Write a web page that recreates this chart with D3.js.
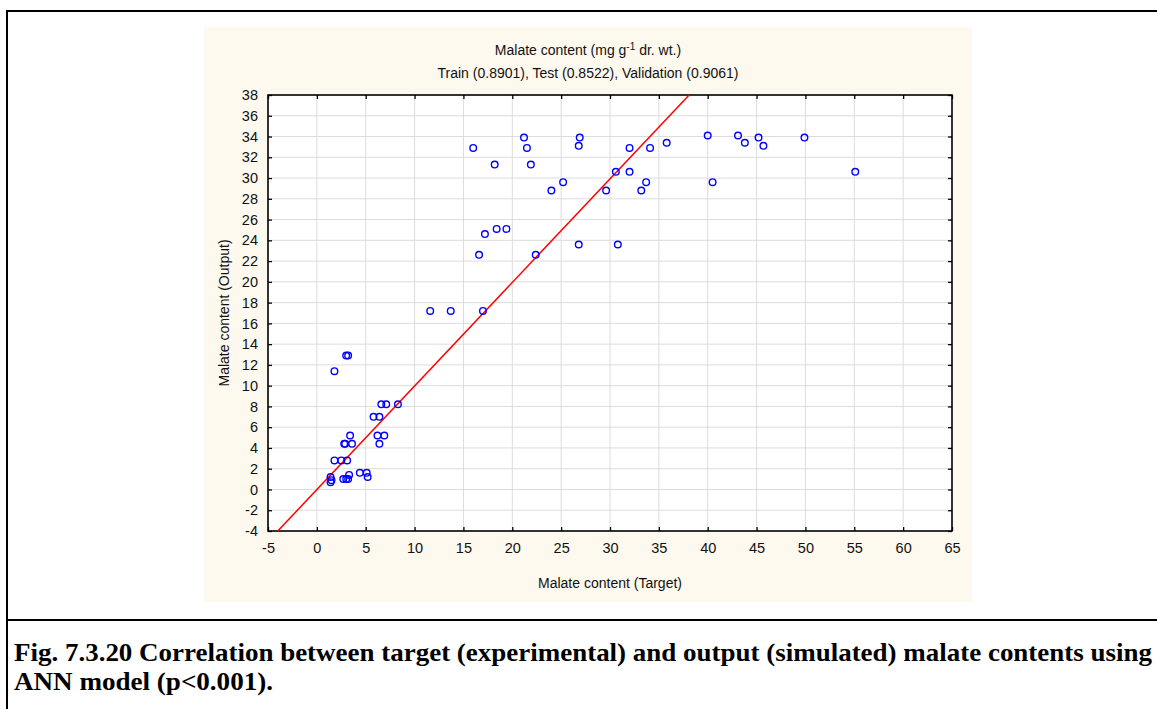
<!DOCTYPE html>
<html lang="en">
<head>
  <meta charset="UTF-8" />
  <title>Malate content ANN correlation</title>
  <script src="https://d3js.org/d3.v7.min.js"></script>
  <style>
    body { margin: 0; background: #fff; }
    svg { display: block; }
    .tick text { font-family: "Liberation Sans", Arial, sans-serif; font-size: 14.5px; fill: #111; }
    .lbl { font-family: "Liberation Sans", Arial, sans-serif; font-size: 14px; fill: #111; }
    .cap { font-family: "Liberation Serif", "Times New Roman", serif; font-weight: bold; font-size: 25px; fill: #000; }
  </style>
</head>
<body>
  <svg id="chart" width="1157" height="709"></svg>

  <script>
    // target (x) and output (y) values
    const targetVals = [
      1.4, 1.5, 1.4, 1.8, 2.5, 3.1, 2.7, 3.0, 3.2, 3.3, 4.4, 5.1, 5.2,
      2.8, 2.9, 3.6, 3.4, 6.4, 6.2, 6.9, 5.8, 6.4, 6.6, 7.1, 8.3,
      1.8, 3.0, 3.2,
      11.6, 13.7, 17.0, 16.6, 22.4, 17.2, 18.4, 19.4, 26.8, 30.8,
      16.0, 21.2, 21.5, 18.2, 21.9, 26.8, 26.9, 24.0, 25.2, 29.6, 30.6,
      32.0, 32.0, 34.1, 33.2, 33.7, 35.8,
      40.0, 40.5, 43.1, 43.8, 45.2, 45.7, 49.9, 55.1
    ];
    const outputVals = [
      1.2, 0.9, 0.7, 2.8, 2.8, 2.8, 1.0, 1.0, 1.0, 1.4, 1.6, 1.6, 1.2,
      4.4, 4.4, 4.4, 5.2, 4.4, 5.2, 5.2, 7.0, 7.0, 8.2, 8.2, 8.2,
      11.4, 12.9, 12.9,
      17.2, 17.2, 17.2, 22.6, 22.6, 24.6, 25.1, 25.1, 23.6, 23.6,
      32.9, 33.9, 32.9, 31.3, 31.3, 33.1, 33.9, 28.8, 29.6, 28.8, 30.6,
      32.9, 30.6, 32.9, 28.8, 29.6, 33.4,
      34.1, 29.6, 34.1, 33.4, 33.9, 33.1, 33.9, 30.6
    ];
    // fitted line end points
    const fitX = [-4, 38.1];
    const fitY = [-4, 38];

    const xTicks = d3.range(-5, 66, 5);
    const yTicks = d3.range(-4, 39, 2);

    const titleMain = 'Malate content (mg g';
    const titleSup = '-1';
    const titleEnd = ' dr. wt.)';
    const subTitle = 'Train (0.8901), Test (0.8522), Validation (0.9061)';
    const xTitle = 'Malate content (Target)';
    const yTitle = 'Malate content (Output)';
    const caption1 = 'Fig. 7.3.20 Correlation between target (experimental) and output (simulated) malate contents using';
    const caption2 = 'ANN model (p<0.001).';

    const svg = d3.select('#chart');
    const plot = { left: 268, right: 952, top: 95, bottom: 531 };
    const fmt = d => String(d);

    // outer frame and caption divider
    svg.append('rect').attr('x', 7).attr('y', 11).attr('width', 1160).attr('height', 720)
      .attr('fill', 'none').attr('stroke', '#000').attr('stroke-width', 2);
    svg.append('line').attr('x1', 7).attr('x2', 1157).attr('y1', 620).attr('y2', 620)
      .attr('stroke', '#000').attr('stroke-width', 2);

    // beige panel
    svg.append('rect').attr('x', 204).attr('y', 27).attr('width', 768).attr('height', 575)
      .attr('fill', '#fef9ef');
    svg.append('rect').attr('x', plot.left).attr('y', plot.top)
      .attr('width', plot.right - plot.left).attr('height', plot.bottom - plot.top)
      .attr('fill', '#fff');

    const x = d3.scaleLinear().domain([-5, 65]).range([plot.left, plot.right]);
    const y = d3.scaleLinear().domain([-4, 38]).range([plot.bottom, plot.top]);

    // grid
    const grid = svg.append('g').attr('stroke', '#dcdcdc').attr('stroke-width', 1);
    xTicks.slice(1, -1).forEach(t => grid.append('line')
      .attr('x1', x(t)).attr('x2', x(t)).attr('y1', plot.top).attr('y2', plot.bottom));
    yTicks.slice(1, -1).forEach(t => grid.append('line')
      .attr('x1', plot.left).attr('x2', plot.right).attr('y1', y(t)).attr('y2', y(t)));

    // axes, ticks pointing inward
    svg.append('g').attr('transform', `translate(0,${plot.bottom})`)
      .call(d3.axisBottom(x).tickValues(xTicks).tickFormat(fmt).tickSizeInner(-4).tickSizeOuter(0).tickPadding(12))
      .call(g => g.select('.domain').remove());
    svg.append('g').attr('transform', `translate(${plot.left},0)`)
      .call(d3.axisLeft(y).tickValues(yTicks).tickFormat(fmt).tickSizeInner(-4).tickSizeOuter(0).tickPadding(10))
      .call(g => g.select('.domain').remove());
    svg.append('g').attr('transform', `translate(0,${plot.top})`)
      .call(d3.axisTop(x).tickValues(xTicks).tickSizeInner(-4).tickSizeOuter(0).tickFormat(''))
      .call(g => g.select('.domain').remove());
    svg.append('g').attr('transform', `translate(${plot.right},0)`)
      .call(d3.axisRight(y).tickValues(yTicks).tickSizeInner(-4).tickSizeOuter(0).tickFormat(''))
      .call(g => g.select('.domain').remove());
    svg.selectAll('.tick line').attr('stroke', '#000').attr('stroke-width', 1.3);

    svg.append('rect').attr('x', plot.left).attr('y', plot.top)
      .attr('width', plot.right - plot.left).attr('height', plot.bottom - plot.top)
      .attr('fill', 'none').attr('stroke', '#000').attr('stroke-width', 1.6);

    // fitted line
    svg.append('path')
      .datum(d3.zip(fitX, fitY))
      .attr('d', d3.line().x(d => x(d[0])).y(d => y(d[1])))
      .attr('stroke', '#ff0000').attr('stroke-width', 1.5).attr('fill', 'none');

    // points
    svg.append('g').selectAll('circle')
      .data(d3.zip(targetVals, outputVals))
      .join('circle')
      .attr('cx', d => x(d[0])).attr('cy', d => y(d[1])).attr('r', 3.3)
      .attr('fill', 'none').attr('stroke', '#0000ff').attr('stroke-width', 1.4);

    // titles
    const t1 = svg.append('text').attr('class', 'lbl').attr('x', 588).attr('y', 55)
      .attr('text-anchor', 'middle');
    t1.append('tspan').text(titleMain);
    t1.append('tspan').attr('dy', -5).attr('font-size', 10).text(titleSup);
    t1.append('tspan').attr('dy', 5).text(titleEnd);
    svg.append('text').attr('class', 'lbl').attr('x', 588).attr('y', 78)
      .attr('text-anchor', 'middle').text(subTitle);
    svg.append('text').attr('class', 'lbl').attr('x', 610).attr('y', 588)
      .attr('text-anchor', 'middle').text(xTitle);
    svg.append('text').attr('class', 'lbl')
      .attr('transform', `translate(229,${(plot.top + plot.bottom) / 2}) rotate(-90)`)
      .attr('text-anchor', 'middle').text(yTitle);

    // caption
    svg.append('text').attr('class', 'cap').attr('x', 14).attr('y', 661)
      .attr('textLength', 1138).attr('lengthAdjust', 'spacingAndGlyphs').text(caption1);
    svg.append('text').attr('class', 'cap').attr('x', 14).attr('y', 690)
      .attr('textLength', 259).attr('lengthAdjust', 'spacingAndGlyphs').text(caption2);
  </script>
</body>
</html>
